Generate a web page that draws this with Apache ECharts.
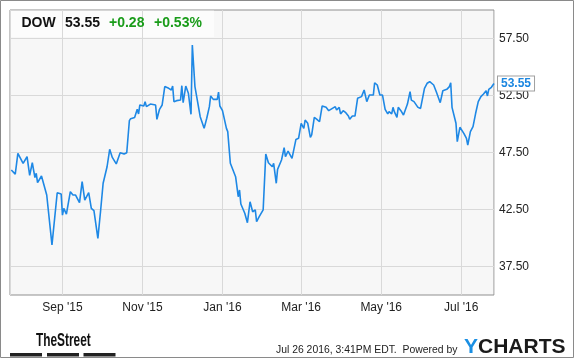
<!DOCTYPE html>
<html><head><meta charset="utf-8">
<script src="https://cdn.jsdelivr.net/npm/echarts@6/dist/echarts.min.js"></script>
<style>html,body{margin:0;padding:0;background:#fff}#c{width:575px;height:358px}</style>
</head><body><div id="c"></div>
<script>
// ---- data ----
const dates = [
'2015-07-24','2015-07-27','2015-07-29','2015-08-02','2015-08-03','2015-08-05','2015-08-07','2015-08-09','2015-08-11','2015-08-12','2015-08-13','2015-08-16','2015-08-20','2015-08-24','2015-08-28','2015-08-31',
'2015-09-01','2015-09-02','2015-09-04','2015-09-07','2015-09-09','2015-09-11','2015-09-14','2015-09-16','2015-09-18','2015-09-21','2015-09-23','2015-09-25','2015-09-28','2015-09-30',
'2015-10-02','2015-10-05','2015-10-07','2015-10-09','2015-10-12','2015-10-15','2015-10-18','2015-10-20','2015-10-22','2015-10-23','2015-10-26','2015-10-28','2015-10-29','2015-10-30',
'2015-11-02','2015-11-03','2015-11-04','2015-11-07','2015-11-11','2015-11-12','2015-11-14','2015-11-16','2015-11-18','2015-11-21','2015-11-23','2015-11-24','2015-11-25','2015-11-27','2015-11-30',
'2015-12-01','2015-12-02','2015-12-04','2015-12-06','2015-12-08','2015-12-09','2015-12-11','2015-12-13','2015-12-15','2015-12-16','2015-12-18','2015-12-20','2015-12-22','2015-12-23','2015-12-25','2015-12-28','2015-12-29','2015-12-30',
'2016-01-01','2016-01-04','2016-01-05','2016-01-07','2016-01-11','2016-01-12','2016-01-13','2016-01-14','2016-01-15','2016-01-18','2016-01-20','2016-01-22','2016-01-24','2016-01-26','2016-01-27','2016-01-29',
'2016-02-01','2016-02-03','2016-02-05','2016-02-08','2016-02-09','2016-02-11','2016-02-12','2016-02-15','2016-02-17','2016-02-18','2016-02-20','2016-02-21','2016-02-23','2016-02-26','2016-02-28','2016-02-29',
'2016-03-01','2016-03-03','2016-03-04','2016-03-06','2016-03-08','2016-03-09','2016-03-11','2016-03-13','2016-03-15','2016-03-17','2016-03-20','2016-03-22','2016-03-27','2016-03-28','2016-03-30','2016-03-31',
'2016-04-02','2016-04-04','2016-04-06','2016-04-07','2016-04-09','2016-04-11','2016-04-13','2016-04-16','2016-04-18','2016-04-20','2016-04-22','2016-04-25','2016-04-26','2016-04-28','2016-04-30',
'2016-05-02','2016-05-04','2016-05-06','2016-05-07','2016-05-09','2016-05-10','2016-05-11','2016-05-13','2016-05-14','2016-05-16','2016-05-18','2016-05-21','2016-05-23','2016-05-24','2016-05-26','2016-05-29','2016-05-31',
'2016-06-03','2016-06-05','2016-06-07','2016-06-10','2016-06-12','2016-06-15','2016-06-17','2016-06-20','2016-06-22','2016-06-23','2016-06-24','2016-06-27','2016-06-28','2016-06-30',
'2016-07-03','2016-07-05','2016-07-06','2016-07-07','2016-07-08','2016-07-10','2016-07-12','2016-07-14','2016-07-16','2016-07-18','2016-07-19','2016-07-20','2016-07-21','2016-07-22','2016-07-24','2016-07-26'
];
const prices = [
45.96,45.6,47.43,46.55,46.4,47.13,45.5,46.6,45.3,45.67,44.85,45.44,43.77,39.39,43.97,43.86,
42.0,42.6,42.1,44.06,43.77,43.77,43.1,44.94,43.33,43.97,42.6,42.4,39.97,42.3,
44.8,46.25,47.78,47.07,46.5,47.48,47.37,47.48,50.29,50.47,50.58,51.29,50.88,51.67,
51.58,51.96,51.52,51.75,51.67,50.41,51.29,51.67,53.28,53.13,52.98,53.33,51.96,52.05,52.1,
53.36,51.87,53.33,52.69,50.85,56.93,53.28,51.96,50.64,50.58,49.62,50.5,51.52,52.46,52.16,52.16,52.8,51.58,
51.17,49.62,49.33,46.55,45.38,44.5,43.62,44.21,42.98,42.17,41.34,43.18,42.3,42.46,41.43,41.87,
42.46,47.37,46.6,46.25,46.55,44.8,46.02,46.84,47.92,47.13,47.63,47.57,46.99,48.65,48.74,48.6,
50.06,49.62,50.35,50.06,48.83,49.04,50.58,50.41,50.2,51.58,51.46,51.17,51.52,51.23,51.46,50.88,
51.17,50.99,50.7,50.41,50.7,50.7,52.25,52.4,52.98,51.96,52.54,52.54,53.62,53.42,52.54,
52.54,51.29,50.88,51.08,50.88,51.46,51.08,50.58,51.46,51.17,50.79,51.75,52.83,52.1,51.96,51.46,51.37,
53.13,53.57,53.71,53.42,52.83,51.87,52.92,53.04,53.28,53.62,51.46,50.06,48.45,49.71,
49.18,48.74,48.16,48.07,49.33,49.77,50.94,51.96,52.4,52.63,52.46,52.92,52.46,53.04,53.22,53.55
];
const yTicks = [37.5, 42.5, 47.5, 52.5, 57.5];
const yRange = [35, 60];
const xRange = ['2015-07-23', '2016-07-26'];
const monthNames = ['Jan','Feb','Mar','Apr','May','Jun','Jul','Aug','Sep','Oct','Nov','Dec'];
const headerSymbol = 'DOW';
const headerLast = '53.55';
const headerChange = '+0.28';
const headerPct = '+0.53%';
const footerDate = 'Jul 26 2016, 3:41PM EDT.  Powered by';
const brandLeft = 'TheStreet';

// ---- chart ----
function parseLocal(s){ const p = s.split('-').map(Number); return new Date(p[0], p[1]-1, p[2]).getTime(); }
const FONT = '"Liberation Sans", Arial, sans-serif';
const DAY = 86400000;
const chart = echarts.init(document.getElementById('c'), null, {renderer:'canvas'});
const option = {
  animation: false,
  textStyle: {fontFamily: FONT},
  grid: {left: 10, right: 81, top: 10, bottom: 63, show: true, backgroundColor: '#f7f7f7',
         borderColor: '#8f8f8f', borderWidth: 1, z: 0, containLabel: false, outerBoundsMode: 'none'},
  xAxis: {
    type: 'time', min: parseLocal(xRange[0]), max: parseLocal(xRange[1]),
    minInterval: 65*DAY, maxInterval: 65*DAY, z: 3,
    axisLine: {show: false}, axisTick: {show: false},
    axisLabel: {margin: 7, color: '#222', fontSize: 12, fontFamily: FONT, hideOverlap: false,
      formatter: function(v){ const d = new Date(v); return monthNames[d.getMonth()] + " '" + String(d.getFullYear()).slice(2); }},
    splitLine: {show: true, lineStyle: {color: '#d9d9d9', width: 1}}
  },
  yAxis: {
    type: 'value', position: 'right', min: yRange[0], max: yRange[1], interval: 2.5, z: 3,
    axisLine: {show: false}, axisTick: {show: false},
    axisLabel: {margin: 5, color: '#222', fontSize: 12, fontFamily: FONT,
      formatter: function(v){ return yTicks.indexOf(v) >= 0 ? v.toFixed(2) : ''; }},
    splitLine: {show: true, lineStyle: {color: ['rgba(0,0,0,0)', '#d9d9d9'], width: 1}}
  },
  series: [{
    type: 'line', z: 5, symbol: 'none', showSymbol: false,
    data: dates.map(function(d, i){ return [parseLocal(d), prices[i]]; }),
    lineStyle: {color: '#1e88e5', width: 1.6},
    endLabel: {show: true, distance: 4, formatter: function(p){ return p.value[1].toFixed(2); },
      color: '#1a86e0', fontWeight: 'bold', fontSize: 12, fontFamily: FONT,
      backgroundColor: '#fff', borderColor: '#a0a0a0', borderWidth: 1, padding: [1, 3, 1, 3]}
  }],
  graphic: [
    {type: 'rect', z: 1, silent: true, shape: {x: 10.5, y: 10.5, width: 203.5, height: 26.5},
     style: {fill: 'rgba(255,255,255,0.6)'}},
    {type: 'text', z: 6, x: 21.5, y: 23.5, style: {text: headerSymbol, font: 'bold 14px ' + FONT, fill: '#111', align: 'left', verticalAlign: 'middle'}},
    {type: 'text', z: 6, x: 65, y: 23.5, style: {text: headerLast, font: 'bold 14px ' + FONT, fill: '#111', align: 'left', verticalAlign: 'middle'}},
    {type: 'text', z: 6, x: 109, y: 23.5, style: {text: headerChange, font: 'bold 14px ' + FONT, fill: '#1a9c1a', align: 'left', verticalAlign: 'middle'}},
    {type: 'text', z: 6, x: 154, y: 23.5, style: {text: headerPct, font: 'bold 14px ' + FONT, fill: '#1a9c1a', align: 'left', verticalAlign: 'middle'}},
    {type: 'rect', z: 6, silent: true, shape: {x: 0.5, y: 0.5, width: 573, height: 357},
     style: {fill: 'none', stroke: '#8a8a8a', lineWidth: 1}},
    {type: 'text', z: 6, x: 36, y: 341, scaleX: 0.66, style: {text: brandLeft, font: 'bold 18px ' + FONT, fill: '#111', align: 'left', verticalAlign: 'middle'}},
    {type: 'rect', z: 6, shape: {x: 10, y: 353, width: 32, height: 3.5}, style: {fill: '#222'}},
    {type: 'rect', z: 6, shape: {x: 47, y: 353, width: 32, height: 3.5}, style: {fill: '#222'}},
    {type: 'rect', z: 6, shape: {x: 83.5, y: 353, width: 32, height: 3.5}, style: {fill: '#222'}},
    {type: 'text', z: 6, x: 276, y: 350.5, style: {text: footerDate, font: '10.4px ' + FONT, fill: '#222', align: 'left', verticalAlign: 'middle'}},
    {type: 'text', z: 6, x: 464, y: 347.5, style: {text: '{y|Y}{c|CHARTS}', align: 'left', verticalAlign: 'middle',
      rich: {y: {fontFamily: FONT, fontWeight: 'bold', fontSize: 21, fill: '#1a8fe3', color: '#1a8fe3'},
             c: {fontFamily: FONT, fontWeight: 'bold', fontSize: 21, fill: '#1a1a1a', color: '#1a1a1a'}}}}
  ]
};
chart.setOption(option);
</script>
</body></html>
